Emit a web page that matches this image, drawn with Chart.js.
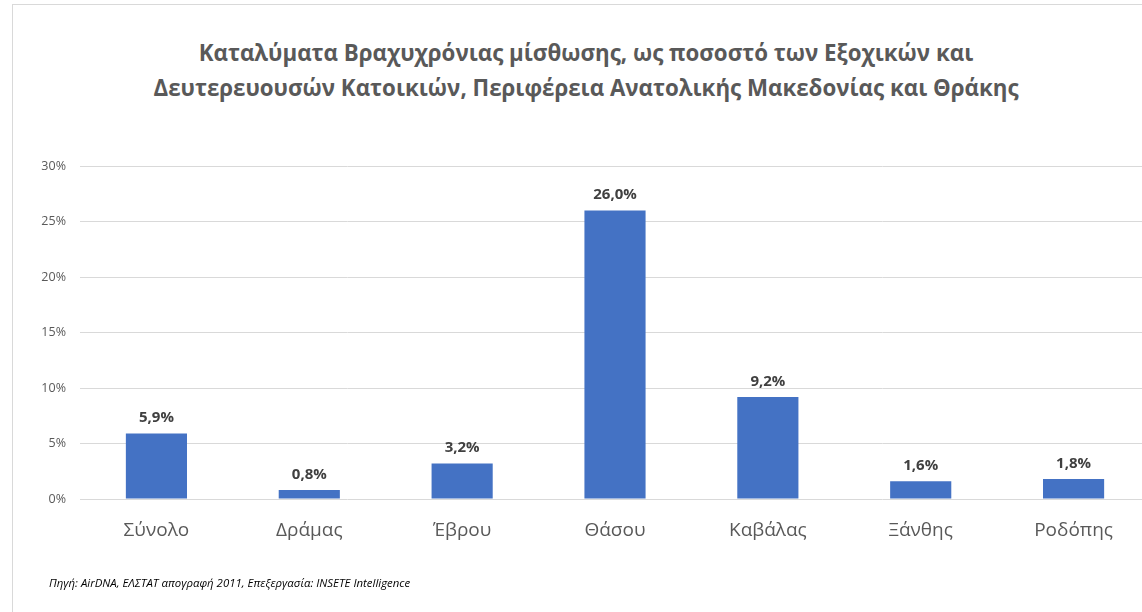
<!DOCTYPE html>
<html>
<head>
<meta charset="utf-8">
<script src="https://cdn.jsdelivr.net/npm/chart.js@4"></script>
<style>
  html, body { margin:0; padding:0; background:#fff; width:1142px; height:612px; overflow:hidden; }
  #frame { position:absolute; left:12px; top:4px; width:1160px; height:640px; border:1px solid #d9d9d9; box-sizing:border-box; }
  #title { position:absolute; left:12px; width:1148px; top:35px; text-align:center; font-family:"Open Sans", sans-serif; font-weight:bold; font-size:22.3px; line-height:35px; color:#595959; }
  #footer { position:absolute; left:49px; top:575px; font-family:"Open Sans", sans-serif; font-style:italic; font-size:11.4px; color:#000; white-space:nowrap; }
  #wrap { position:absolute; left:0; top:0; width:1160px; height:612px; }
</style>
</head>
<body>
<div id="frame"></div>
<div id="title">Καταλύματα Βραχυχρόνιας μίσθωσης, ως ποσοστό των Εξοχικών και<br>Δευτερευουσών Κατοικιών, Περιφέρεια Ανατολικής Μακεδονίας και Θράκης</div>
<div id="wrap"><canvas id="c" width="1160" height="612"></canvas></div>
<div id="footer">Πηγή: AirDNA, ΕΛΣΤΑΤ απογραφή 2011, Επεξεργασία: INSETE Intelligence</div>
<script>
const categories = ["Σύνολο", "Δράμας", "Έβρου", "Θάσου", "Καβάλας", "Ξάνθης", "Ροδόπης"];
const values = [5.9, 0.8, 3.2, 26.0, 9.2, 1.6, 1.8];
const yTicks = [0, 5, 10, 15, 20, 25, 30];

const labelPlugin = {
  id: 'barLabels',
  afterDatasetsDraw(chart) {
    const ctx = chart.ctx;
    const meta = chart.getDatasetMeta(0);
    ctx.save();
    ctx.font = 'bold 15px "Open Sans", sans-serif';
    ctx.fillStyle = '#404040';
    ctx.textAlign = 'center';
    ctx.textBaseline = 'bottom';
    meta.data.forEach((bar, i) => {
      const txt = values[i].toFixed(1).replace('.', ',') + '%';
      ctx.fillText(txt, bar.x, bar.y - 8);
    });
    ctx.restore();
  }
};

new Chart(document.getElementById('c'), {
  type: 'bar',
  data: {
    labels: categories,
    datasets: [{
      data: values,
      backgroundColor: '#4472C4',
      barPercentage: 0.4,
      categoryPercentage: 1.0
    }]
  },
  options: {
    responsive: false,
    animation: false,
    devicePixelRatio: 1,
    layout: { padding: { left: 0, right: 10, top: 166, bottom: 0 } },
    plugins: { legend: { display: false }, tooltip: { enabled: false }, title: { display: false } },
    scales: {
      y: {
        min: 0, max: 30,
        afterFit(s) { s.width = 80; },
        afterBuildTicks(s) { s.ticks = yTicks.map(v => ({ value: v })); },
        border: { display: false },
        grid: { color: '#d9d9d9', lineWidth: 1, drawTicks: false },
        ticks: {
          padding: 14,
          color: '#595959',
          font: { family: '"Open Sans", sans-serif', size: 12.5 },
          callback: v => v + '%'
        }
      },
      x: {
        afterFit(s) { s.height = 113; },
        border: { display: false },
        grid: { display: false, drawTicks: false },
        ticks: {
          padding: 20,
          color: '#595959',
          font: { family: '"Open Sans", sans-serif', size: 19 }
        }
      }
    }
  },
  plugins: [labelPlugin]
});
</script>
</body>
</html>
